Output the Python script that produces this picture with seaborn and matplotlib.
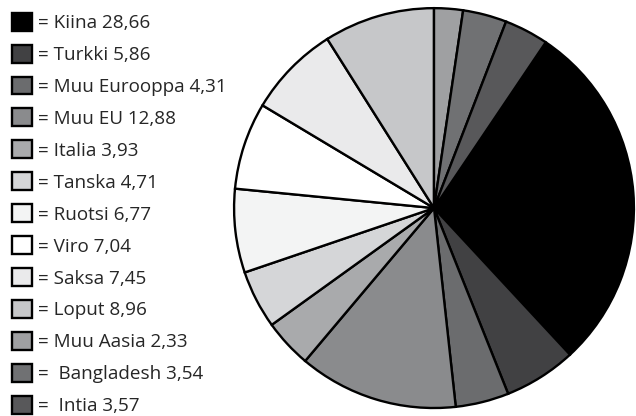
import matplotlib
matplotlib.use("Agg")
import matplotlib.pyplot as plt
import seaborn as sns

sns.set_theme(style="white")
plt.rcParams['font.family'] = ['Open Sans', 'DejaVu Sans']

# Data (legend order)
categories = ["Kiina", "Turkki", "Muu Eurooppa", "Muu EU", "Italia", "Tanska",
              "Ruotsi", "Viro", "Saksa", "Loput", "Muu Aasia", " Bangladesh", " Intia"]
values = [28.66, 5.86, 4.31, 12.88, 3.93, 4.71, 6.77, 7.04, 7.45, 8.96, 2.33, 3.54, 3.57]
value_labels = ["28,66", "5,86", "4,31", "12,88", "3,93", "4,71", "6,77", "7,04",
                "7,45", "8,96", "2,33", "3,54", "3,57"]
colors = ["#000000", "#414143", "#6b6c6e", "#8a8b8d", "#a9aaac", "#d5d6d8",
          "#f3f4f4", "#ffffff", "#eaeaeb", "#c6c7c9", "#9fa0a2", "#707173", "#58585a"]

# pie starts after the last three wedges (clockwise from 12 o'clock)
total = sum(values)
start = 90 - sum(values[-3:]) / total * 360

fig = plt.figure(figsize=(6.36, 4.16), dpi=100)
ax = fig.add_axes([0.3664, 0.0168, 0.632, 0.966])
wedges, _ = ax.pie(values, colors=colors, startangle=start, counterclock=False,
                   wedgeprops=dict(edgecolor="black", linewidth=1.7))
ax.set_xlim(-1.005, 1.005)
ax.set_ylim(-1.005, 1.005)
ax.set_aspect("equal")

labels = [f"= {c} {v}" for c, v in zip(categories, value_labels)]
fig.legend(wedges, labels, loc="upper left", bbox_to_anchor=(0.0184, 0.9695),
           frameon=False, fontsize=13.6, handlelength=1.08, handleheight=1.08,
           handletextpad=0.3, labelspacing=0.665, borderpad=0, borderaxespad=0)

fig.savefig("out.png", dpi=100)
